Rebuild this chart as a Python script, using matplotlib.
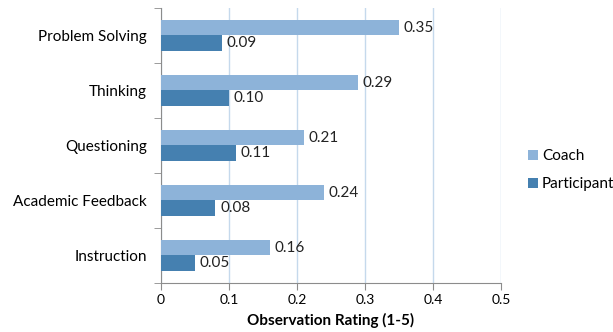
import numpy as np
import matplotlib.pyplot as plt

categories = ["Problem Solving", "Thinking", "Questioning", "Academic Feedback", "Instruction"]
coach = [0.35, 0.29, 0.21, 0.24, 0.16]
participant = [0.09, 0.10, 0.11, 0.08, 0.05]
xticks = [0, 0.1, 0.2, 0.3, 0.4, 0.5]
xtick_labels = ["0", "0.1", "0.2", "0.3", "0.4", "0.5"]

plt.rcParams['font.family'] = ['Lato', 'DejaVu Sans']

fig = plt.figure(figsize=(6.13, 3.32), dpi=100)
ax = fig.add_axes([0.2626, 0.1476, 0.5547, 0.8284])

n = len(categories)
y = np.arange(n)[::-1]
h = 0.285
grid_c = "#c5d9ec"
spine_c = "#8c8c8c"

b1 = ax.barh(y + h / 2, coach, height=h, color="#8db3d9", label="Coach", zorder=3)
b2 = ax.barh(y - h / 2, participant, height=h, color="#4580b0", label="Participant", zorder=3)

for bars, vals in ((b1, coach), (b2, participant)):
    for bar, v in zip(bars, vals):
        ax.text(v + 0.007, bar.get_y() + bar.get_height() / 2, f"{v:.2f}",
                va="center", ha="left", fontsize=11, color="#222222")

ax.set_xlim(0, 0.5)
ax.set_ylim(-0.5, n - 0.5)
ax.set_xticks(xticks)
ax.set_xticklabels(xtick_labels, fontsize=10)
ax.set_yticks(y)
ax.set_yticklabels(categories, fontsize=11)
ax.set_yticks(np.arange(-0.5, n, 1.0), minor=True)
ax.tick_params(axis="y", which="major", length=0, pad=10)
ax.tick_params(axis="y", which="minor", length=5, color=spine_c, direction="out")
ax.tick_params(axis="x", length=5, color=spine_c, direction="out", pad=3)

ax.grid(axis="x", color=grid_c, linewidth=1, zorder=0)
for side in ("top", "right"):
    ax.spines[side].set_visible(False)
for side in ("left", "bottom"):
    ax.spines[side].set_color(spine_c)

ax.set_xlabel("Observation Rating (1-5)", fontsize=11, fontweight="bold", labelpad=5)

ax.legend(loc="center left", bbox_to_anchor=(1.04, 0.41), frameon=False,
          fontsize=11, handlelength=0.6, handleheight=0.6, handletextpad=0.3,
          labelspacing=0.9)

fig.savefig("out.png", dpi=100)
